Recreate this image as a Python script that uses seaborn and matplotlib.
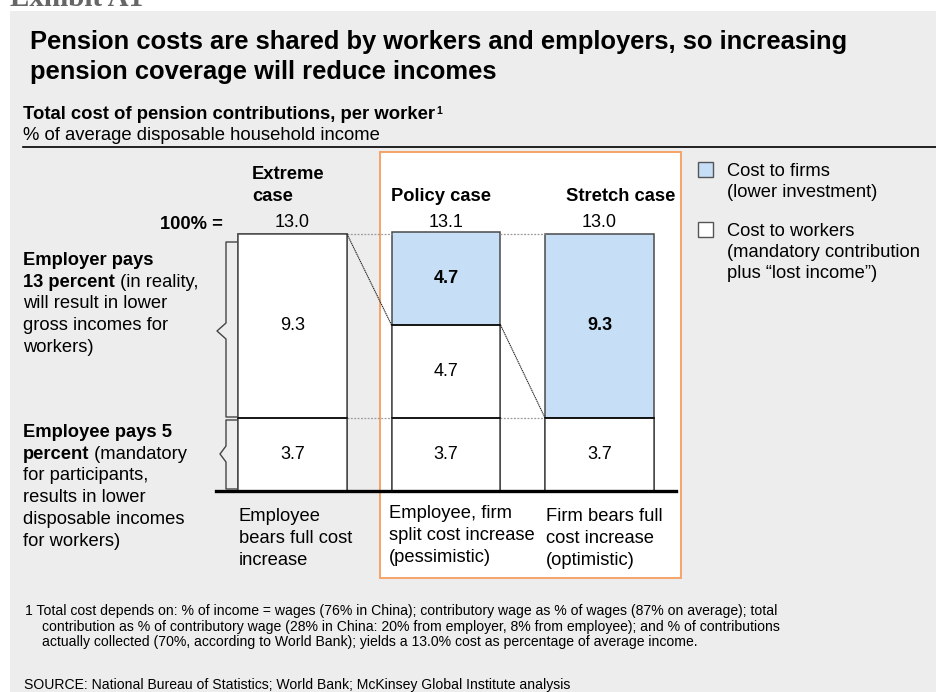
import matplotlib
matplotlib.use("Agg")
import matplotlib.pyplot as plt
from matplotlib.patches import Rectangle
from matplotlib.lines import Line2D
import seaborn as sns
import numpy as np
import pandas as pd

# ---------------- data ----------------
cases = ["Extreme case", "Policy case", "Stretch case"]
case_headers = [["Extreme", "case"], ["Policy case"], ["Stretch case"]]
employee_base = [3.7, 3.7, 3.7]          # employee pays 5 percent (cost to workers)
worker_extra = [9.3, 4.7, 0.0]           # employer share borne by workers
firm_cost = [0.0, 4.7, 9.3]              # employer share borne by firms
totals = ["13.0", "13.1", "13.0"]
scenario_labels = [["Employee", "bears full cost", "increase"],
                   ["Employee, firm", "split cost increase", "(pessimistic)"],
                   ["Firm bears full", "cost increase", "(optimistic)"]]

BLUE = "#C6DFF7"
WHITE = "#FFFFFF"
GRAY_BG = "#EDEDED"
ORANGE = "#F6A468"
EDGE = "#4a4a4a"

W, H = 937, 692
plt.rcParams["font.family"] = ["Liberation Sans", "DejaVu Sans"]

fig = plt.figure(figsize=(W / 100, H / 100), dpi=100)
fig.patch.set_facecolor("white")


def fx(x):
    return x / W


def fy(y):
    return 1 - y / H


def ftxt(x, y, s, **kw):
    kw.setdefault("va", "baseline")
    kw.setdefault("ha", "left")
    return fig.text(fx(x), fy(y), s, **kw)


# background panels
fig.patches.append(Rectangle((fx(10), 0), 1 - fx(10), fy(11), transform=fig.transFigure,
                             facecolor=GRAY_BG, edgecolor="none", zorder=-5))
fig.patches.append(Rectangle((fx(380), fy(578)), fx(681) - fx(380), fy(152) - fy(578),
                             transform=fig.transFigure, facecolor="white",
                             edgecolor=ORANGE, linewidth=1.4, zorder=-4))

# ---------------- axes / bars ----------------
px_per_unit = 19.77
ax_left, ax_right = 215.75, 676.25
ax_bottom_px = 491
ylim_top = 14.5
ax = fig.add_axes([fx(ax_left), fy(ax_bottom_px), fx(ax_right) - fx(ax_left),
                   ylim_top * px_per_unit / H])
ax.set_facecolor("none")

base = np.array(employee_base)
mid = np.array(worker_extra)
firm = np.array(firm_cost)
lvl1 = base
lvl2 = base + mid
lvl3 = base + mid + firm

df = pd.DataFrame({"case": cases, "l1": lvl1, "l2": lvl2, "l3": lvl3})
top_palette = {c: (BLUE if f > 0 else WHITE) for c, f in zip(cases, firm)}
bar_w = 0.71
common = dict(ax=ax, width=bar_w, edgecolor=EDGE, linewidth=1.1, saturation=1,
              errorbar=None, order=cases)
sns.barplot(data=df, x="case", y="l3", hue="case", palette=top_palette, legend=False, **common)
sns.barplot(data=df, x="case", y="l2", color=WHITE, **common)
sns.barplot(data=df, x="case", y="l1", color=WHITE, **common)

# horizontal segment boundary lines in black
for i in range(len(cases)):
    for yv in sorted(set([lvl1[i], lvl2[i]])):
        if yv < lvl3[i]:
            ax.plot([i - bar_w / 2, i + bar_w / 2], [yv, yv], color="black", lw=1.1, zorder=5)

ax.set_xlim(-0.5, 2.5)
ax.set_ylim(0, ylim_top)
ax.axis("off")
ax.axhline(0, color="black", lw=2.4, zorder=6, clip_on=False)

# segment value labels
fs_val = 13
for i in range(len(cases)):
    segs = [(0, base[i], False), (base[i], mid[i], False), (base[i] + mid[i], firm[i], True)]
    for b, v, bold in segs:
        if v > 0:
            ax.text(i, b + v / 2, f"{v:.1f}", ha="center", va="center", fontsize=fs_val,
                    fontweight="bold" if bold else "normal", zorder=7)

# totals above bars
for i, t in enumerate(totals):
    ax.text(i, 13.0 + 7 / px_per_unit, t, ha="center", va="baseline",
            fontsize=fs_val, zorder=7)

# connectors between bars
for i in range(len(cases) - 1):
    x0 = i + bar_w / 2
    x1 = i + 1 - bar_w / 2
    for yv in (13.0, 3.7):
        ax.plot([x0, x1], [yv, yv], color="#9a9a9a", lw=0.9, ls=(0, (1.5, 1.2)),
                zorder=4, clip_on=False)
    ax.plot([x0, x1], [lvl2[i], lvl2[i + 1]], color="#222222", lw=0.8,
            ls=(0, (1.2, 0.6)), zorder=4, clip_on=False)

# ---------------- texts ----------------
fs = 13.2
ftxt(10, 6, "Exhibit A1", fontsize=21, fontweight="bold", color="#666666",
     family=["Liberation Serif", "DejaVu Serif"])

ftxt(30, 49, "Pension costs are shared by workers and employers, so increasing",
     fontsize=18.4, fontweight="bold")
ftxt(30, 79.5, "pension coverage will reduce incomes", fontsize=18.4, fontweight="bold")

t = ftxt(23, 119, "Total cost of pension contributions, per worker", fontsize=13.3,
         fontweight="bold")
renderer = fig.canvas.get_renderer()
bb = t.get_window_extent(renderer)
ftxt(bb.x1 + 1, 114, "1", fontsize=7.5, fontweight="bold")
ftxt(23, 140, "% of average disposable household income", fontsize=13.3)
fig.lines.append(Line2D([fx(23), 1], [fy(147), fy(147)], transform=fig.transFigure,
                        color="black", lw=1.2))

# case headers
header_x = [252, 391, 566]
for hx, lines in zip(header_x, case_headers):
    n = len(lines)
    for k, ln in enumerate(lines):
        ftxt(hx, 201 - 22 * (n - 1 - k), ln, fontsize=fs, fontweight="bold")

ftxt(223, 229, "100% =", ha="right", fontsize=fs, fontweight="bold")

# scenario labels below
scen_x = [239, 389, 546]
scen_y = [521, 518, 521]
for sx, sy, lines in zip(scen_x, scen_y, scenario_labels):
    for k, ln in enumerate(lines):
        ftxt(sx, sy + 21.8 * k, ln, fontsize=fs)

# legend
leg_items = [(BLUE, ["Cost to firms", "(lower investment)"], 162),
             (WHITE, ["Cost to workers", "(mandatory contribution", "plus \u201clost income\u201d)"], 222)]
for col, lines, ytop in leg_items:
    fig.patches.append(Rectangle((fx(698), fy(ytop + 15)), fx(15), 15 / H,
                                 transform=fig.transFigure, facecolor=col,
                                 edgecolor="#555555", lw=1.0, zorder=3))
    for k, ln in enumerate(lines):
        ftxt(727, ytop + 14 + 21 * k, ln, fontsize=fs)


# left annotations with mixed bold text
def mixed(x, y, parts, size=fs):
    cx = x
    for s, bold in parts:
        tt = ftxt(cx, y, s, fontsize=size, fontweight="bold" if bold else "normal")
        b = tt.get_window_extent(renderer)
        cx = b.x1


ann1 = [[("Employer pays", True)],
        [("13 percent", True), (" (in reality,", False)],
        [("will result in lower", False)],
        [("gross incomes for", False)],
        [("workers)", False)]]
ann2 = [[("Employee pays 5", True)],
        [("percent", True), (" (mandatory", False)],
        [("for participants,", False)],
        [("results in lower", False)],
        [("disposable incomes", False)],
        [("for workers)", False)]]
for k, parts in enumerate(ann1):
    mixed(23, 265 + 21.7 * k, parts)
for k, parts in enumerate(ann2):
    mixed(23, 437 + 21.7 * k, parts)


# brackets
def bracket(y0, y1, ym, xv=226, xr=237, xp=217):
    pts_x = [xr, xv, xv, xp, xv, xv, xr]
    pts_y = [y0, y0, ym - 8, ym, ym + 8, y1, y1]
    fig.lines.append(Line2D([fx(v) for v in pts_x], [fy(v) for v in pts_y],
                            transform=fig.transFigure, color="#444444", lw=1.0))


bracket(242, 417, 331)
bracket(420, 489, 454, xp=220)

# footnotes
fn = 10.1
ftxt(25, 615, "1 Total cost depends on: % of income = wages (76% in China); contributory wage as % of wages (87% on average); total",
     fontsize=fn)
ftxt(42, 631, "contribution as % of contributory wage (28% in China: 20% from employer, 8% from employee); and % of contributions",
     fontsize=fn)
ftxt(42, 646, "actually collected (70%, according to World Bank); yields a 13.0% cost as percentage of average income.",
     fontsize=fn)
ftxt(24, 689, "SOURCE: National Bureau of Statistics; World Bank; McKinsey Global Institute analysis",
     fontsize=fn)

fig.savefig("out.png", dpi=100)
